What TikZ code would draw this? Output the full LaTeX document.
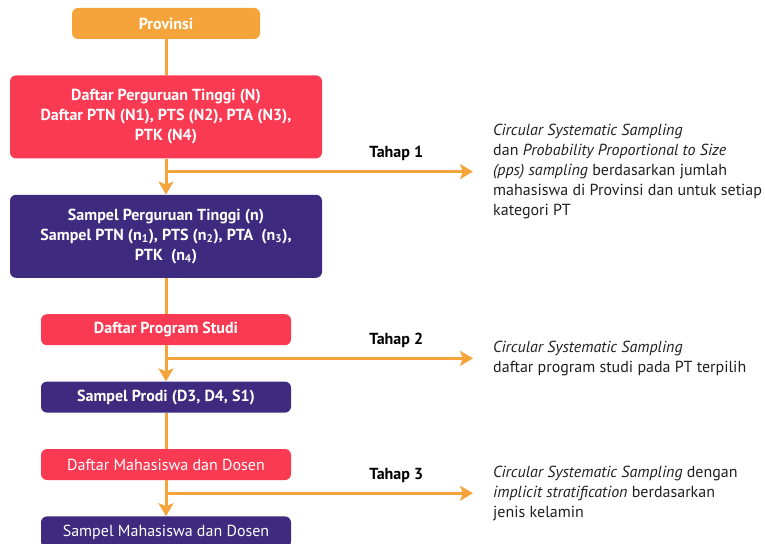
\documentclass[tikz,border=0pt]{standalone}
\usepackage{fontspec}
\setmainfont{PT Sans}
\usetikzlibrary{positioning,arrows.meta,calc}
\definecolor{provorange}{HTML}{F4A43A}
\definecolor{daftarred}{HTML}{FA3A52}
\definecolor{sampelpurple}{HTML}{3E2A7E}
\definecolor{notegray}{HTML}{231F20}

\begin{document}
\begin{tikzpicture}[x=1pt,y=1pt,>={Stealth[length=13pt,width=15pt,inset=3pt]},
  font=\fontsize{16}{20}\selectfont, node distance=36pt,
  box/.style={rounded corners=6pt,text=white,align=center,inner sep=0pt},
  wide/.style={box,minimum width=312pt,minimum height=83pt,font=\fontsize{16}{20}\selectfont\bfseries},
  slim/.style={box,minimum width=250pt,minimum height=31pt},
  link/.style={draw=provorange,line width=3pt},
  tahap/.style={text=black,font=\fontsize{16}{20}\selectfont\bfseries},
  note/.style={right=20pt of #1,align=left,inner sep=0pt,text=notegray}]
  \useasboundingbox (0,0) rectangle (765,-543);
  \node[box,fill=provorange,minimum width=188pt,minimum height=31pt,font=\fontsize{16}{20}\selectfont\bfseries] (prov) at (166,-23.5) {Provinsi};
  \node[wide,fill=daftarred,below=of prov] (dpt) {Daftar Perguruan Tinggi (N)\\Daftar PTN (N1), PTS (N2), PTA (N3),\\PTK (N4)};
  \node[wide,fill=sampelpurple,below=of dpt] (spt) {Sampel Perguruan Tinggi (n)\\Sampel PTN (n\textsubscript{1}), PTS (n\textsubscript{2}), PTA\ \ (n\textsubscript{3}),\\PTK\ \ (n\textsubscript{4})};
  \node[slim,fill=daftarred,below=of spt,font=\fontsize{16}{20}\selectfont\bfseries] (dps) {Daftar Program Studi};
  \node[slim,fill=sampelpurple,below=of dps,font=\fontsize{16}{20}\selectfont\bfseries] (sps) {Sampel Prodi (D3, D4, S1)};
  \node[slim,fill=daftarred,below=of sps] (dmd) {Daftar Mahasiswa dan Dosen};
  \node[slim,fill=sampelpurple,below=of dmd] (smd) {Sampel Mahasiswa dan Dosen};
  % main flow
  \draw[link](prov)--(dpt);\draw[link,->](dpt)--(spt);
  \draw[link](spt)--(dps);\draw[link,->](dps)--(sps);
  \draw[link](sps)--(dmd);\draw[link,->](dmd)--(smd);
  % sampling stages
  \coordinate(b1) at ($(dpt.south)+(0,-13)$); \coordinate(e1) at ($(b1)+(307,0)$);
  \coordinate(b2) at ($(dps.south)+(0,-13)$); \coordinate(e2) at ($(b2)+(307,0)$);
  \coordinate(b3) at ($(dmd.south)+(0,-13)$); \coordinate(e3) at ($(b3)+(307,0)$);
  \draw[link,->](b1)--(e1) node[tahap,pos=0.75,above=6pt]{Tahap 1};
  \draw[link,->](b2)--(e2) node[tahap,pos=0.75,above=6pt]{Tahap 2};
  \draw[link,->](b3)--(e3) node[tahap,pos=0.75,above=6pt]{Tahap 3};
  \node[note=e1](n1){\emph{Circular Systematic Sampling}\\dan \emph{Probability Proportional to Size}\\\emph{(pps) sampling} berdasarkan jumlah\\mahasiswa di Provinsi dan untuk setiap\\kategori PT};
  \node[note=e2](n2){\emph{Circular Systematic Sampling}\\daftar program studi pada PT terpilih};
  \node[note=e3](n3){\emph{Circular Systematic Sampling} dengan\\\emph{implicit stratification} berdasarkan\\jenis kelamin};
\end{tikzpicture}
\end{document}
